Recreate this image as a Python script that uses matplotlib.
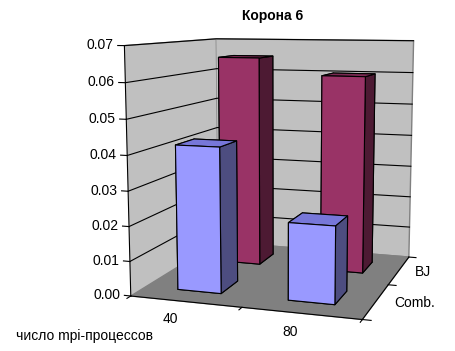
import matplotlib.pyplot as plt
import numpy as np

plt.rcParams['font.family'] = ['Liberation Sans', 'DejaVu Sans']

# время счёта для двух вариантов
processes = ['40', '80']
series = ['Comb.', 'BJ']
comb_time = [0.042, 0.022]
bj_time = [0.065, 0.060]
z_ticks = [0.00, 0.01, 0.02, 0.03, 0.04, 0.05, 0.06, 0.07]

# front, side, top colours per series
palette = {
    'Comb.': ('#9999FF', '#4D4D80', '#7777D9'),
    'BJ': ('#993366', '#4D1A33', '#7A2952'),
}

fig = plt.figure(figsize=(4.55, 3.51), dpi=100)
ax = fig.add_axes([0.105, 0.027, 1.0, 1.0], projection='3d')
ax.view_init(elev=9, azim=-72)
ax.set_proj_type('persp', focal_length=0.5)
ax.set_box_aspect((1, 1, 1.05), zoom=1.09)

bar_w = 0.4
xs, ys, dz, colors = [], [], [], []
for j, name in enumerate(series):
    vals = comb_time if name == 'Comb.' else bj_time
    front, side, top = palette[name]
    for i, v in enumerate(vals):
        xs.append(i + 0.5 - bar_w / 2)
        ys.append(j + 0.5 - bar_w / 2)
        dz.append(v)
        # faces: -z, +z, -y, +y, -x, +x
        colors += [front, top, front, front, side, side]

ax.bar3d(xs, ys, np.zeros(len(xs)), bar_w, bar_w, dz, color=colors,
         shade=False, edgecolor='black', linewidth=0.8)

ax.set_xlim(0, 2)
ax.set_ylim(0, 2)
ax.set_zlim(0, 0.07)

# walls and floor
ax.grid(False)
ax.xaxis.set_pane_color('#C0C0C0')
ax.yaxis.set_pane_color('#C0C0C0')
ax.zaxis.set_pane_color('#808080')
for a in (ax.xaxis, ax.yaxis, ax.zaxis):
    a.pane.set_edgecolor('#808080')
    a.line.set_color('black')
    a.line.set_linewidth(0.8)
    a.label.set_visible(False)
    a.get_offset_text().set_visible(False)
ax.set_xticks([])
ax.set_yticks([])
ax.set_zticks([])
ax.zaxis.set_ticks_position('lower')

# horizontal gridlines on the left and back walls
for z in z_ticks[1:]:
    ax.plot([0, 0, 2], [0, 2, 2], [z, z, z], color='black', linewidth=0.8)

# value axis: ticks and labels along the front-left edge
for z in z_ticks:
    ax.plot([0, -0.06], [0, 0], [z, z], color='black', linewidth=0.8)
    ax.text(-0.1, 0, z, '%.2f' % z, ha='right', va='center', fontsize=10)

# category axis along the front edge
for x in [0, 1, 2]:
    ax.plot([x, x], [0, -0.07], [0, 0], color='black', linewidth=0.8)
for i, lab in enumerate(processes):
    ax.text(i + 0.5, -0.3, 0, lab, ha='center', va='top', fontsize=10)

# series axis along the right edge
for y in [0, 1, 2]:
    ax.plot([2, 2.07], [y, y], [0, 0], color='black', linewidth=0.8)
for j, lab in enumerate(series):
    ax.text(2.15, j + 0.5, 0, lab, ha='left', va='center', fontsize=10)

fig.text(0.6, 0.955, 'Корона 6', ha='center', va='center',
         fontsize=10, fontweight='bold')
fig.text(0.035, 0.03, 'число mpi-процессов', fontsize=10)

fig.savefig('out.png', dpi=100)
